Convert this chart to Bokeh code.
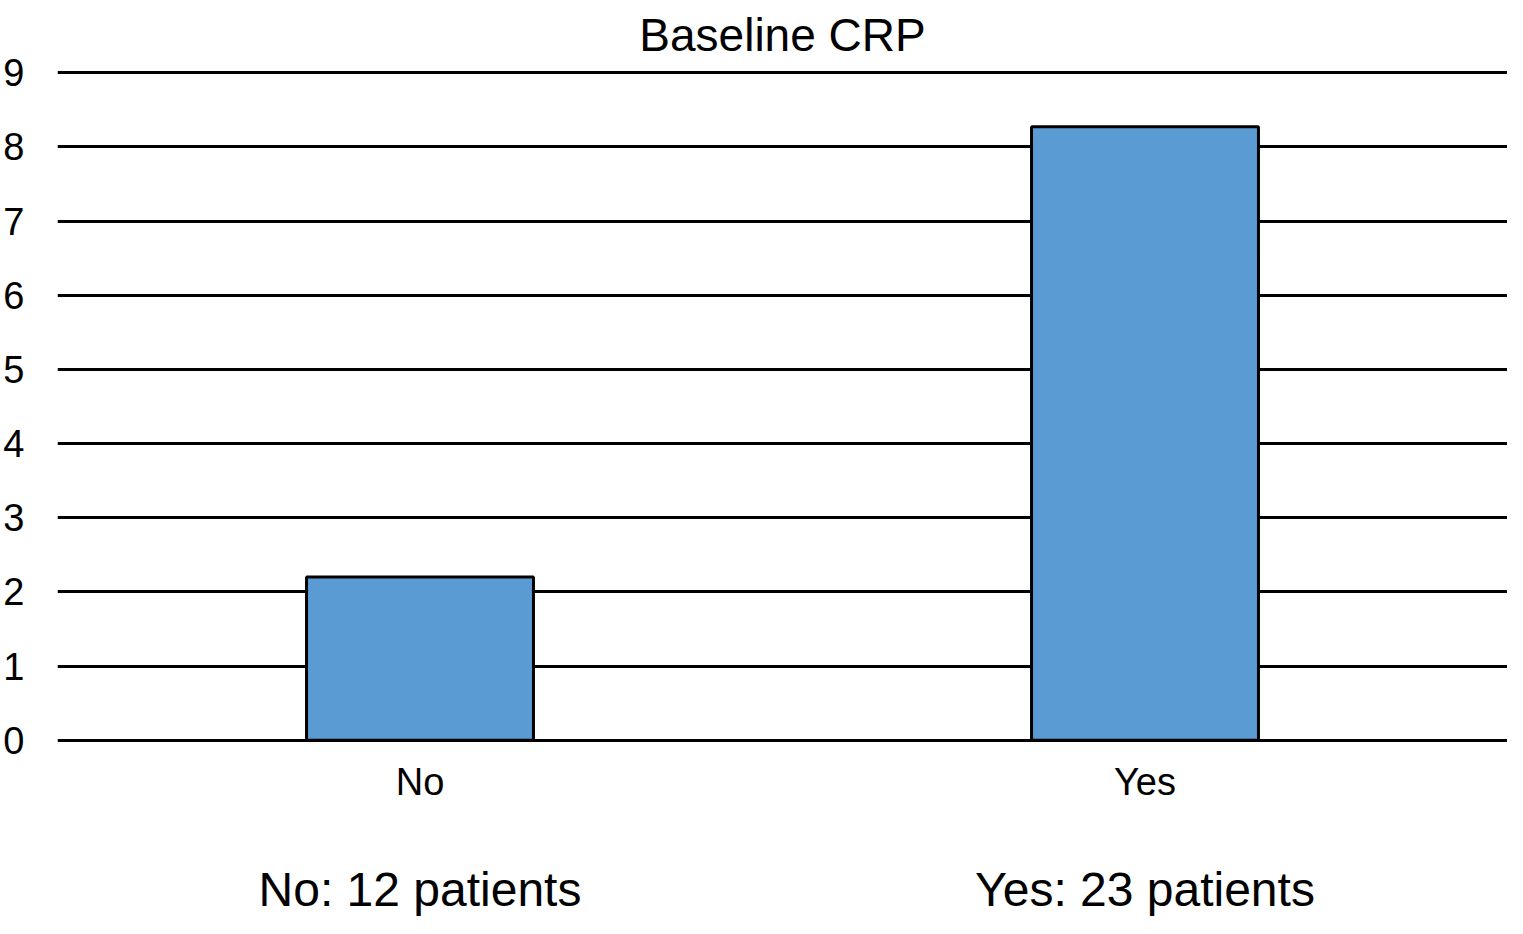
from bokeh.plotting import figure
from bokeh.models import ColumnDataSource, FactorRange, Range1d, FixedTicker, CategoricalAxis
from bokeh.embed import file_html
from bokeh.resources import INLINE

# ---- data ----
categories = ["No", "Yes"]
crp_values = [2.20, 8.27]
patient_counts = [12, 23]
y_ticks = [0, 1, 2, 3, 4, 5, 6, 7, 8, 9]
title_text = "Baseline CRP"

FONT = "Liberation Sans"

count_labels = [f"{c}: {n} patients" for c, n in zip(categories, patient_counts)]

source = ColumnDataSource(data=dict(cat=categories, val=crp_values))

p = figure(
    width=1507, height=918,
    x_range=FactorRange(factors=categories, range_padding=0),
    y_range=Range1d(-0.03, 9.03),
    output_backend="svg", toolbar_location=None,
    title=title_text,
    min_border_left=54, min_border_right=0, min_border_top=0, min_border_bottom=0,
)
p.extra_x_ranges = {"counts": FactorRange(factors=count_labels, range_padding=0)}

p.vbar(x="cat", top="val", bottom=0, width=0.313, source=source,
       fill_color="#5A9BD4", line_color="black", line_width=3)

# title
p.title.text_font = FONT
p.title.text_font_size = "46px"
p.title.text_font_style = "normal"
p.title.align = "center"
p.title.vertical_align = "top"
p.title.text_color = "black"
p.title.text_line_height = 0.8
p.title.standoff = 16

# grid
p.xgrid.grid_line_color = None
p.ygrid.grid_line_color = "black"
p.ygrid.grid_line_width = 3
p.ygrid.ticker = FixedTicker(ticks=y_ticks)
p.outline_line_color = None

# y axis
p.yaxis.ticker = FixedTicker(ticks=y_ticks)
p.yaxis.axis_line_color = None
p.yaxis.major_tick_line_color = None
p.yaxis.minor_tick_line_color = None
p.yaxis.major_tick_in = 0
p.yaxis.major_tick_out = 0
p.yaxis.major_label_standoff = 33
p.yaxis.major_label_text_font = FONT
p.yaxis.major_label_text_font_size = "38px"
p.yaxis.major_label_text_color = "black"

# x axis (category names)
p.xaxis.axis_line_color = None
p.xaxis.major_tick_line_color = None
p.xaxis.major_tick_in = 0
p.xaxis.major_tick_out = 0
p.xaxis.major_label_standoff = 18
p.xaxis.major_label_text_font = FONT
p.xaxis.major_label_text_font_size = "38px"
p.xaxis.major_label_text_color = "black"

# second axis below: patient counts
count_axis = CategoricalAxis(
    x_range_name="counts",
    axis_line_color=None, major_tick_line_color=None,
    major_tick_in=0, major_tick_out=0,
    major_label_standoff=57,
    major_label_text_font=FONT,
    major_label_text_font_size="48px",
    major_label_text_color="black",
)
p.add_layout(count_axis, "below")

open("out.html", "w").write(file_html(p, INLINE))
